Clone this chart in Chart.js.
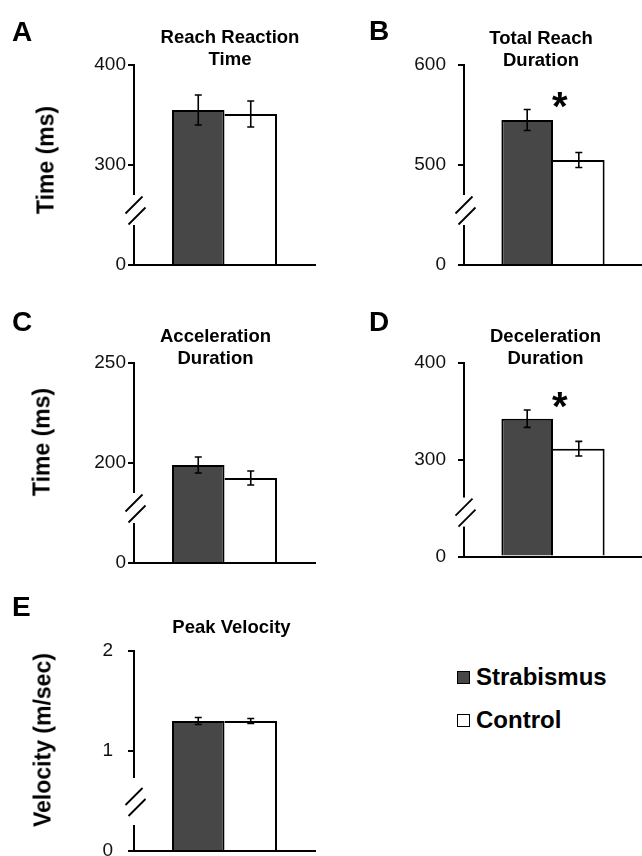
<!DOCTYPE html>
<html>
<head>
<meta charset="utf-8">
<script src="https://cdn.jsdelivr.net/npm/chart.js@4.4.1/dist/chart.umd.min.js"></script>
<style>
html, body { margin:0; padding:0; background:#fff; }
body { width:642px; height:856px; overflow:hidden; position:relative; font-family:"Liberation Sans", Arial, sans-serif; color:#000; }
canvas { position:absolute; }
.txt { position:absolute; white-space:nowrap; font-weight:bold; }
.sq { position:absolute; box-sizing:border-box; border:1.5px solid #000; }
</style>
</head>
<body>
<script>
// ---------------- DATA ----------------
const groups = ['Strabismus', 'Control'];
const panelLetters = ['A', 'B', 'C', 'D', 'E'];
const panelTitles = [['Reach Reaction', 'Time'], ['Total Reach', 'Duration'], ['Acceleration', 'Duration'], ['Deceleration', 'Duration'], ['Peak Velocity']];
const yAxisTitles = ['Time (ms)', '', 'Time (ms)', '', 'Velocity (m/sec)'];
const strabismusMean = [355, 545, 199, 342.5, 1.30];
const strabismusSE = [15, 10.5, 4, 9, 0.035];
const controlMean = [351, 505, 192.5, 311.5, 1.30];
const controlSE = [13, 7.5, 3.5, 7.5, 0.025];
const yTicks = [[0, 300, 400], [0, 500, 600], [0, 200, 250], [0, 300, 400], [0, 1, 2]];
const significant = [false, true, false, true, false];

// ---------------- STYLE / LAYOUT ----------------
const FONT = '"Liberation Sans", Arial, sans-serif';
const COLORS = ['#474747', '#ffffff'];
const boxes = [
  {x:0,   y:0,   w:321, h:290, area:[134, 65, 315, 265],  tickPad:2,  gap:[0.4, 0.7],   titleX:230,   titleBase:[44, 66],   letter:[12, 42],   yTitle:[45.5, 160]},
  {x:321, y:0,   w:321, h:290, area:[464, 65, 642, 265],  tickPad:12, gap:[0.4, 0.7],   titleX:541,   titleBase:[45, 67],   letter:[369, 41],  yTitle:null},
  {x:0,   y:290, w:321, h:290, area:[134, 363, 315, 563], tickPad:2,  gap:[0.4, 0.7],   titleX:215.5, titleBase:[343, 365], letter:[12, 332],  yTitle:[42, 442]},
  {x:321, y:290, w:321, h:290, area:[464, 363, 642, 563], tickPad:12, gap:[0.31, 0.61], titleX:545.5, titleBase:[343, 365], letter:[369, 332], yTitle:null},
  {x:0,   y:580, w:321, h:300, area:[134, 651, 315, 851], tickPad:15, gap:[0.26, 0.73], titleX:231.5, titleBase:[634],      letter:[12, 617],  yTitle:[42.5, 740]}
];

// ---------------- BROKEN AXIS SCALE ----------------
class BrokenScale extends Chart.LinearScale {
  _geom() {
    const brk = this.options.brk;
    const g = this.options.gapFrac || [0.4, 0.7];
    const mid = (this.top + this.bottom) / 2;
    const k = (mid - this.top) / (this.max - brk);
    const gapPx = this.bottom - (g[0] + g[1]) / 2 * (this.bottom - mid);
    const vGap = brk - (gapPx - mid) / k;
    return {brk, mid, k, gapPx, vGap};
  }
  getPixelForValue(value) {
    const {brk, mid, k, gapPx, vGap} = this._geom();
    if (value >= vGap) return mid - (value - brk) * k;
    return this.bottom - (value / vGap) * (this.bottom - gapPx);
  }
  getValueForPixel(pixel) {
    const {brk, mid, k, gapPx, vGap} = this._geom();
    if (pixel <= gapPx) return brk + (mid - pixel) / k;
    return (this.bottom - pixel) / (this.bottom - gapPx) * vGap;
  }
}
BrokenScale.id = 'broken';
BrokenScale.defaults = Chart.LinearScale.defaults;
Chart.register(BrokenScale);

function decoPlugin(i) {
  const b = boxes[i];
  return {
    id: 'deco' + i,
    afterDatasetsDraw(chart) {
      const ctx = chart.ctx, ys = chart.scales.y;
      chart.data.datasets.forEach((ds, di) => {
        const meta = chart.getDatasetMeta(di);
        meta.data.forEach((bar, j) => {
          const v = ds.data[j], e = ds.err[j];
          const yt = ys.getPixelForValue(v + e), yb = ys.getPixelForValue(v - e);
          ctx.save();
          ctx.strokeStyle = '#000';
          ctx.lineWidth = 1.6;
          ctx.beginPath();
          ctx.moveTo(bar.x, yt); ctx.lineTo(bar.x, yb);
          ctx.moveTo(bar.x - 3.5, yt); ctx.lineTo(bar.x + 3.5, yt);
          ctx.moveTo(bar.x - 3.5, yb); ctx.lineTo(bar.x + 3.5, yb);
          ctx.stroke();
          ctx.restore();
        });
      });
      if (significant[i]) {
        const bar0 = chart.getDatasetMeta(0).data[0];
        const edge = bar0.x + bar0.width / 2;
        const top = ys.getPixelForValue(strabismusMean[i] + strabismusSE[i]);
        ctx.save();
        ctx.fillStyle = '#000';
        ctx.font = 'bold 40px ' + FONT;
        ctx.textBaseline = 'alphabetic';
        ctx.textAlign = 'left';
        const m = ctx.measureText('*');
        const gw = m.actualBoundingBoxRight + m.actualBoundingBoxLeft;
        const cx = edge + 7, cy = top - 10;
        ctx.fillText('*', cx - gw / 2 + m.actualBoundingBoxLeft, cy + (m.actualBoundingBoxAscent - m.actualBoundingBoxDescent) / 2);
        ctx.restore();
      }
    },
    afterDraw(chart) {
      const ctx = chart.ctx, ys = chart.scales.y;
      const x = ys.right;
      const mid = (ys.top + ys.bottom) / 2;
      const yLow = ys.bottom - b.gap[0] * (ys.bottom - mid);
      const yHigh = ys.bottom - b.gap[1] * (ys.bottom - mid);
      ctx.save();
      ctx.fillStyle = '#fff';
      ctx.fillRect(x - 3, yHigh, 6, yLow - yHigh);
      const c = (yLow + yHigh) / 2;
      ctx.strokeStyle = '#000';
      ctx.lineWidth = 1.8;
      ctx.beginPath();
      [[x, c - 5], [x + 3, c + 6]].forEach(([cx, cy]) => {
        ctx.moveTo(cx - 8.5, cy + 8.5);
        ctx.lineTo(cx + 8.5, cy - 8.5);
      });
      ctx.stroke();
      ctx.restore();
    }
  };
}

function addText(text, x, baseline, size, align) {
  const d = document.createElement('div');
  d.className = 'txt';
  d.textContent = text;
  d.style.fontSize = size + 'px';
  d.style.lineHeight = size + 'px';
  d.style.top = (baseline - 0.8465 * size) + 'px';
  d.style.left = x + 'px';
  if (align === 'center') d.style.transform = 'translateX(-50%)';
  document.body.appendChild(d);
}

boxes.forEach((b, i) => {
  const cv = document.createElement('canvas');
  cv.width = b.w; cv.height = b.h;
  cv.style.left = b.x + 'px'; cv.style.top = b.y + 'px';
  cv.style.width = b.w + 'px'; cv.style.height = b.h + 'px';
  document.body.appendChild(cv);
  const [al, at, ar, ab] = b.area;
  new Chart(cv, {
    type: 'bar',
    data: {
      labels: [''],
      datasets: [
        {label: groups[0], data: [strabismusMean[i]], err: [strabismusSE[i]], backgroundColor: COLORS[0], borderColor: '#000',
         borderWidth: {top: 2, left: 2, right: 2, bottom: 0}, borderSkipped: false, categoryPercentage: 0.58, barPercentage: 1},
        {label: groups[1], data: [controlMean[i]], err: [controlSE[i]], backgroundColor: COLORS[1], borderColor: '#000',
         borderWidth: {top: 2, left: 0, right: 2, bottom: 0}, borderSkipped: false, categoryPercentage: 0.58, barPercentage: 1}
      ]
    },
    options: {
      responsive: false, animation: false, devicePixelRatio: 1,
      layout: {padding: {left: 0, top: at - b.y, right: b.x + b.w - ar, bottom: b.y + b.h - ab}},
      plugins: {legend: {display: false}, title: {display: false}, tooltip: {enabled: false}},
      scales: {
        x: {
          type: 'category', z: 1,
          grid: {display: false, drawTicks: false},
          border: {display: true, color: '#000', width: 2},
          ticks: {display: false},
          afterFit: s => { s.height = 0; }
        },
        y: {
          type: 'broken', brk: yTicks[i][1], gapFrac: b.gap, min: 0, max: yTicks[i][2], z: 1,
          afterBuildTicks: s => { s.ticks = yTicks[i].map(v => ({value: v})); },
          afterFit: s => { s.width = al - b.x; },
          grid: {display: true, drawOnChartArea: false, drawTicks: true, tickLength: 6, color: '#000', lineWidth: 2},
          border: {display: true, color: '#000', width: 2},
          ticks: {autoSkip: false, padding: b.tickPad, color: '#111', font: {family: FONT, size: 19}, callback: v => String(v)}
        }
      }
    },
    plugins: [decoPlugin(i)]
  });

  addText(panelLetters[i], b.letter[0], b.letter[1], 28, 'left');
  panelTitles[i].forEach((t, k) => addText(t, b.titleX, b.titleBase[k], 18.5, 'center'));
  if (yAxisTitles[i]) {
    const d = document.createElement('div');
    d.className = 'txt';
    d.textContent = yAxisTitles[i];
    d.style.fontSize = '23px';
    d.style.lineHeight = '23px';
    d.style.left = b.yTitle[0] + 'px';
    d.style.top = b.yTitle[1] + 'px';
    d.style.transform = 'translate(-50%, -50%) rotate(-90deg)';
    document.body.appendChild(d);
  }
});

// legend
const legendRows = [677, 720];
groups.forEach((g, k) => {
  const sq = document.createElement('div');
  sq.className = 'sq';
  sq.style.left = '457px';
  sq.style.top = (legendRows[k] - 6.5) + 'px';
  sq.style.width = '13px';
  sq.style.height = '13px';
  sq.style.background = COLORS[k];
  document.body.appendChild(sq);
  addText(g, 476, legendRows[k] + 8.6, 24, 'left');
});
</script>
</body>
</html>
